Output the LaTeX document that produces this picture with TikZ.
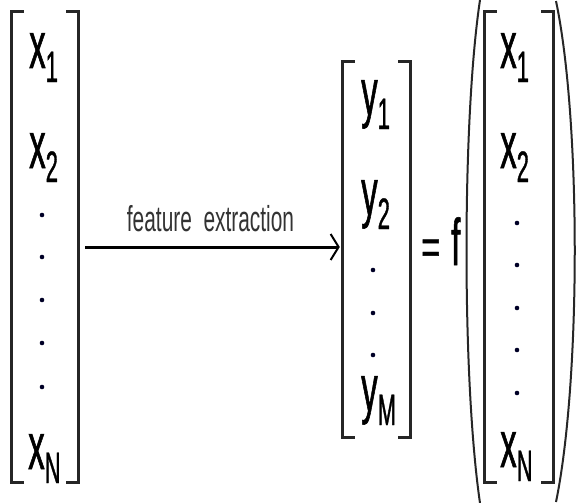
\documentclass[tikz,border=0pt]{standalone}
\usepackage{fontspec}
\setmainfont{Liberation Sans}[FakeStretch=0.58]
\newfontfamily\entryfont{Liberation Sans}[FakeStretch=0.5, FakeBold=0.8]
\usepackage{tikz}
\usetikzlibrary{arrows.meta,positioning,calc}

\newcommand{\subidx}[1]{\raisebox{-14pt}{\fontsize{44}{44}\selectfont #1}}
% brackets round a column node: #1 node, #2 serif length
\newcommand{\drawbrackets}[2]{%
  \draw[bracket] ([xshift=#2]#1.north west) -- (#1.north west) -- (#1.south west) -- ++(#2,0);
  \draw[bracket] ([xshift=-#2]#1.north east) -- (#1.north east) -- (#1.south east) -- ++(-#2,0);}

\begin{document}
\begin{tikzpicture}[x=1pt, y=-1pt,
  entry/.style={anchor=base west, inner sep=0pt, font=\entryfont\fontsize{66}{66}\selectfont},
  colbox/.style={inner sep=0pt},
  bracket/.style={line width=2.8pt, black!85},
  vdot/.style={fill=black!85!blue},
  lbl/.style={inner sep=0pt, text=black!80, font=\fontsize{36}{36}\selectfont},
  extract/.style={line width=3pt, -{Straight Barb[length=8pt, width=26pt, line width=2pt]}}]
  \useasboundingbox (0,0) rectangle (576,503);

  % input vector
  \node[colbox, minimum width=66pt, minimum height=470pt] (xcol) at (45,247) {};
  \drawbrackets{xcol}{12pt}
  \node[entry] (x1) at (29,68) {x\subidx{1}};
  \node[entry] (x2) at (29,168) {x\subidx{2}};
  \node[entry] (xN) at (28,469) {x\subidx{N}};
  \foreach \y in {215,257,300,343,387}
    \fill[vdot] (42,\y) circle (2.3);

  % feature vector
  \node[colbox, minimum width=67pt, minimum height=375pt] (ycol) at (376.5,249.5) {};
  \drawbrackets{ycol}{12pt}
  \node[entry] (y1) at (361,115) {y\subidx{1}};
  \node[entry] (y2) at (361,215) {y\subidx{2}};
  \node[entry] (yM) at (361,411) {y\subidx{M}};
  \foreach \y in {270,313,355}
    \fill[vdot] (373,\y) circle (2.3);

  \draw[extract, shorten <=7pt, shorten >=3pt] (xcol.east) -- node[lbl, above=14pt] (lbl) {feature\ \ extraction} (xcol.east -| ycol.west);

  % = f( ... )
  \node[entry, font=\entryfont\fontsize{50}{50}\selectfont] (eq) at (421,264) {\scalebox{1.3}[1]{=}};
  \node[entry] (f) at (451,265) {f};
  \node[colbox, minimum width=68pt, minimum height=470pt] (fcol) at (519,247) {};
  \drawbrackets{fcol}{12pt}
  \node[entry] (fx1) at (500,68) {x\subidx{1}};
  \node[entry] (fx2) at (500,168) {x\subidx{2}};
  \node[entry] (fxN) at (500,467) {x\subidx{N}};
  \foreach \y in {223,265,308,350,393}
    \fill[vdot] (517,\y) circle (2.3);
  \draw[line width=2pt, black!85] (480,0) .. controls (462,120) and (462,380) .. (480,503);
  \draw[line width=2pt, black!85] (556,1) .. controls (581,120) and (581,380) .. (556,502);
\end{tikzpicture}
\end{document}
